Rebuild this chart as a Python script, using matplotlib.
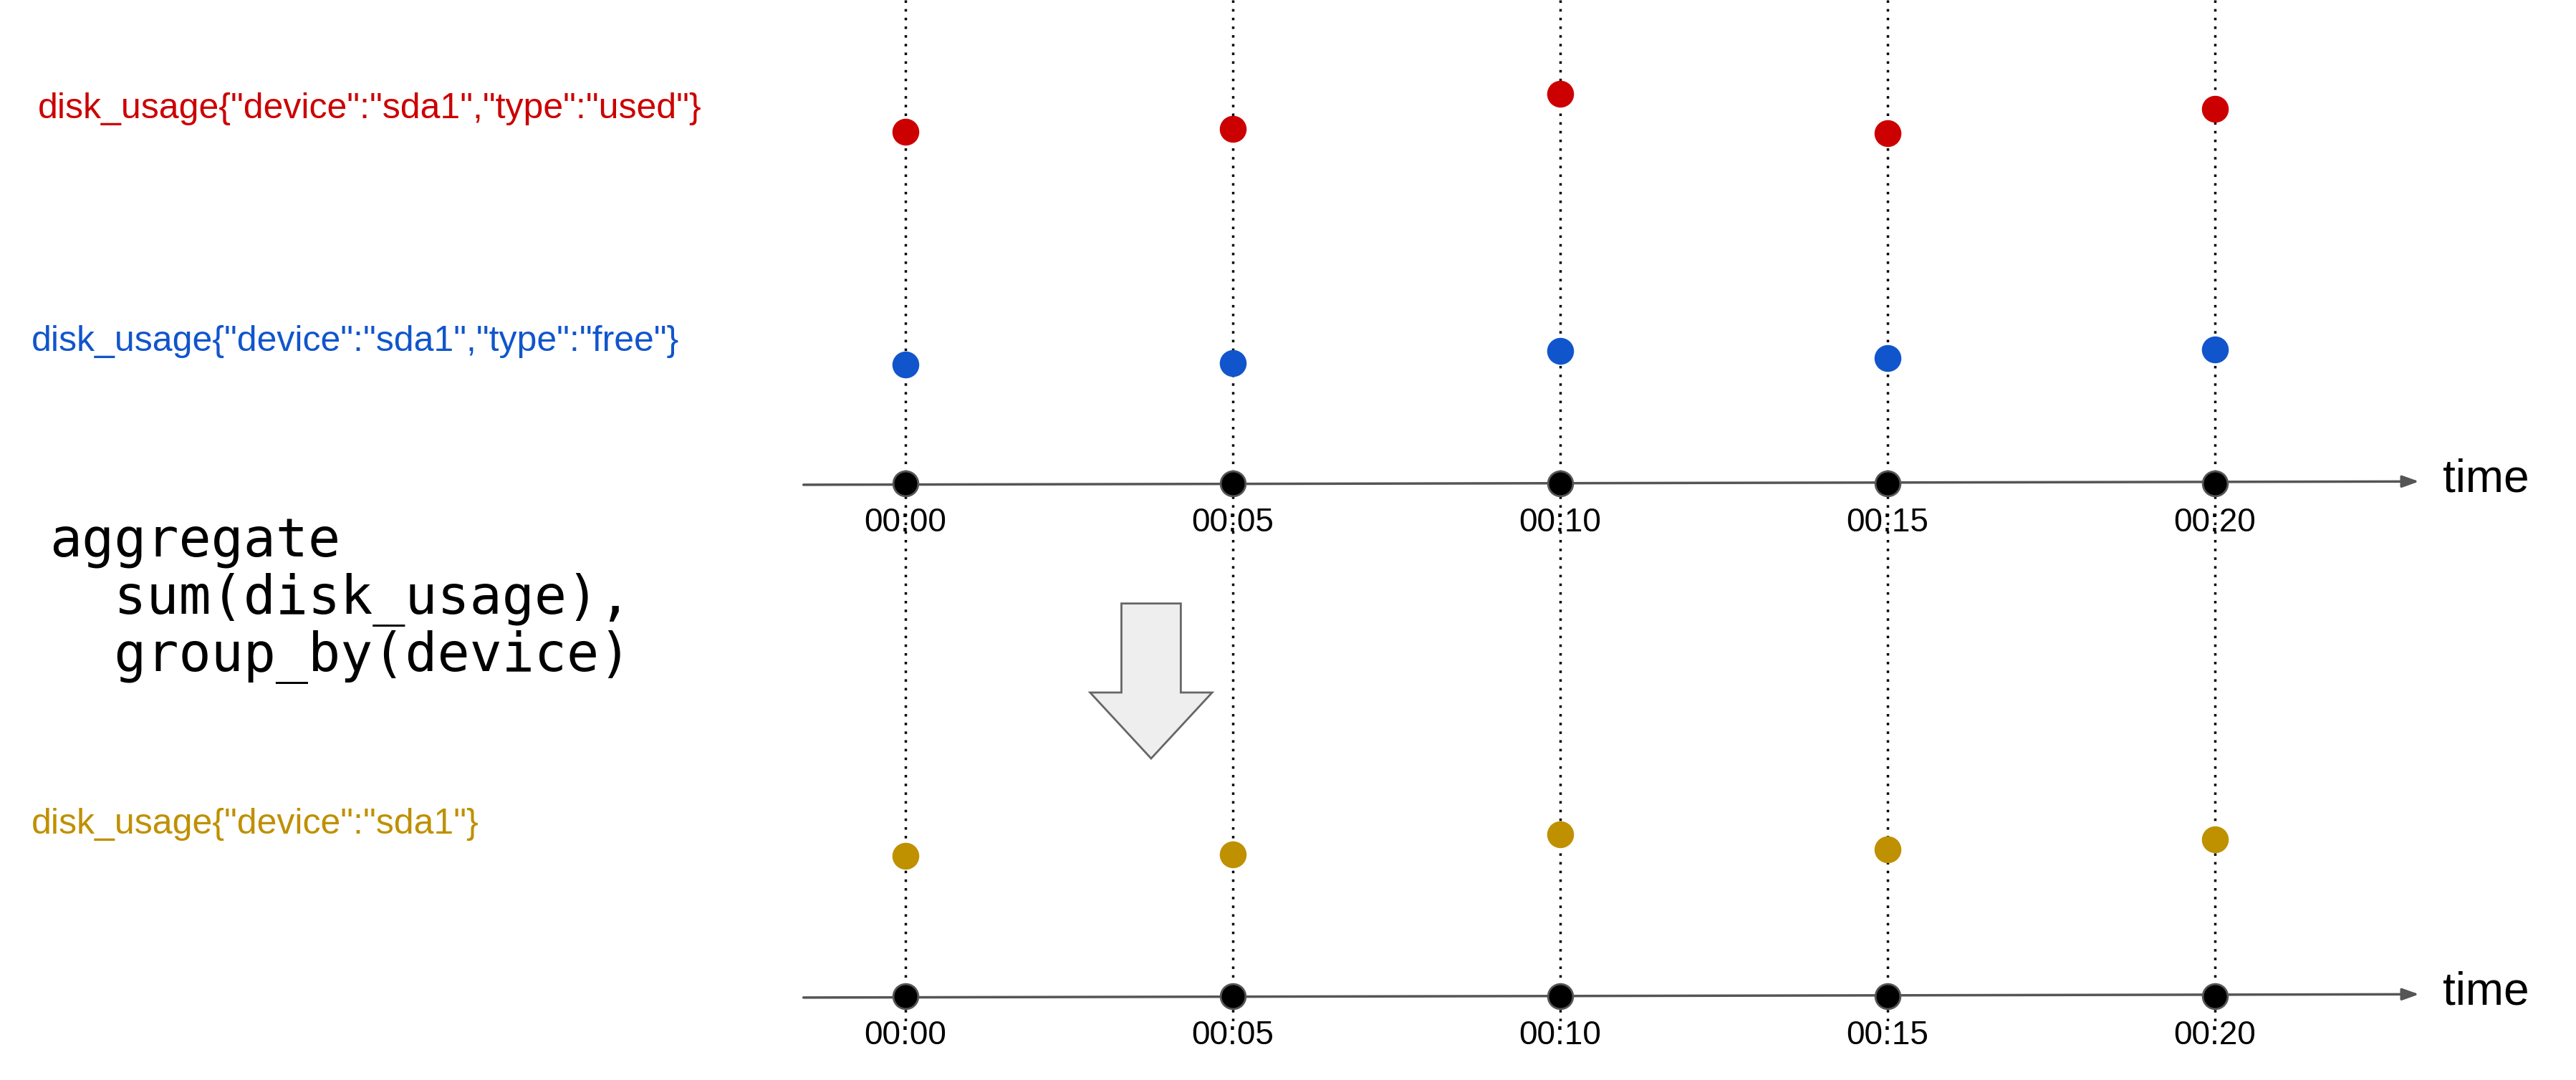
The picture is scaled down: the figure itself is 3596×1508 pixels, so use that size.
import matplotlib.pyplot as plt
from matplotlib.patches import FancyArrow

times = [0, 5, 10, 15, 20]
tick_labels = ["00:00", "00:05", "00:10", "00:15", "00:20"]
# heights of the dots above their time axis (diagram units)
used = [213, 215, 236, 212, 227]
free = [72, 73, 80, 76, 81]
summed = [85, 86, 98, 89, 95]

W, H = 1562, 655
px = 39.7  # diagram units per minute
x0 = 549

fig = plt.figure(figsize=(35.96, 15.08), dpi=100)
ax = fig.add_axes([0, 0, 1, 1])
ax.set_xlim(-x0 / px, (W - x0) / px)
ax.set_ylim(H, 0)
ax.axis("off")

def tx(p):
    return (p - x0) / px

axis1, axis2 = 293, 604
sans = "Liberation Sans"

for t in times:
    ax.plot([t, t], [0, 622], color="black", ls=(0, (1, 2.5)), lw=2.5, zorder=1)

for ya in (axis1, axis2):
    ax.annotate("", xy=(tx(1468), ya - 1), xytext=(tx(486), ya + 1),
                arrowprops=dict(arrowstyle="-|>,head_length=1.4,head_width=0.5",
                                color="#555555", lw=2.5), zorder=2)
    ax.plot(times, [ya] * len(times), "o", color="black", mec="#555555",
            ms=25, mew=2, zorder=3)
    for t, lab in zip(times, tick_labels):
        ax.text(t, ya + 24, lab, ha="center", va="center", fontsize=33, family=sans)
    ax.text(tx(1481), ya - 2, "time", ha="left", va="center", fontsize=46, family=sans)

ax.plot(times, [axis1 - v for v in used], "o", color="#cc0000", ms=26, zorder=3)
ax.plot(times, [axis1 - v for v in free], "o", color="#1155cc", ms=26, zorder=3)
ax.plot(times, [axis2 - v for v in summed], "o", color="#bf9000", ms=26, zorder=3)

ax.text(tx(23), 66, 'disk_usage{"device":"sda1","type":"used"}', color="#cc0000",
        fontsize=36, va="center", family=sans)
ax.text(tx(19), 207, 'disk_usage{"device":"sda1","type":"free"}', color="#1155cc",
        fontsize=36, va="center", family=sans)
ax.text(tx(19), 500, 'disk_usage{"device":"sda1"}', color="#bf9000",
        fontsize=36, va="center", family=sans)

ax.text(tx(30), 364, "aggregate\n  sum(disk_usage),\n  group_by(device)",
        fontsize=54, family="DejaVu Sans Mono", va="center", ha="left",
        linespacing=1.1)

ax.add_patch(FancyArrow(tx(698), 366, 0, 94, width=36 / px, head_width=74 / px,
                        head_length=40, length_includes_head=True,
                        fc="#eeeeee", ec="#666666", lw=2, zorder=2))

fig.savefig("out.png", dpi=100)
